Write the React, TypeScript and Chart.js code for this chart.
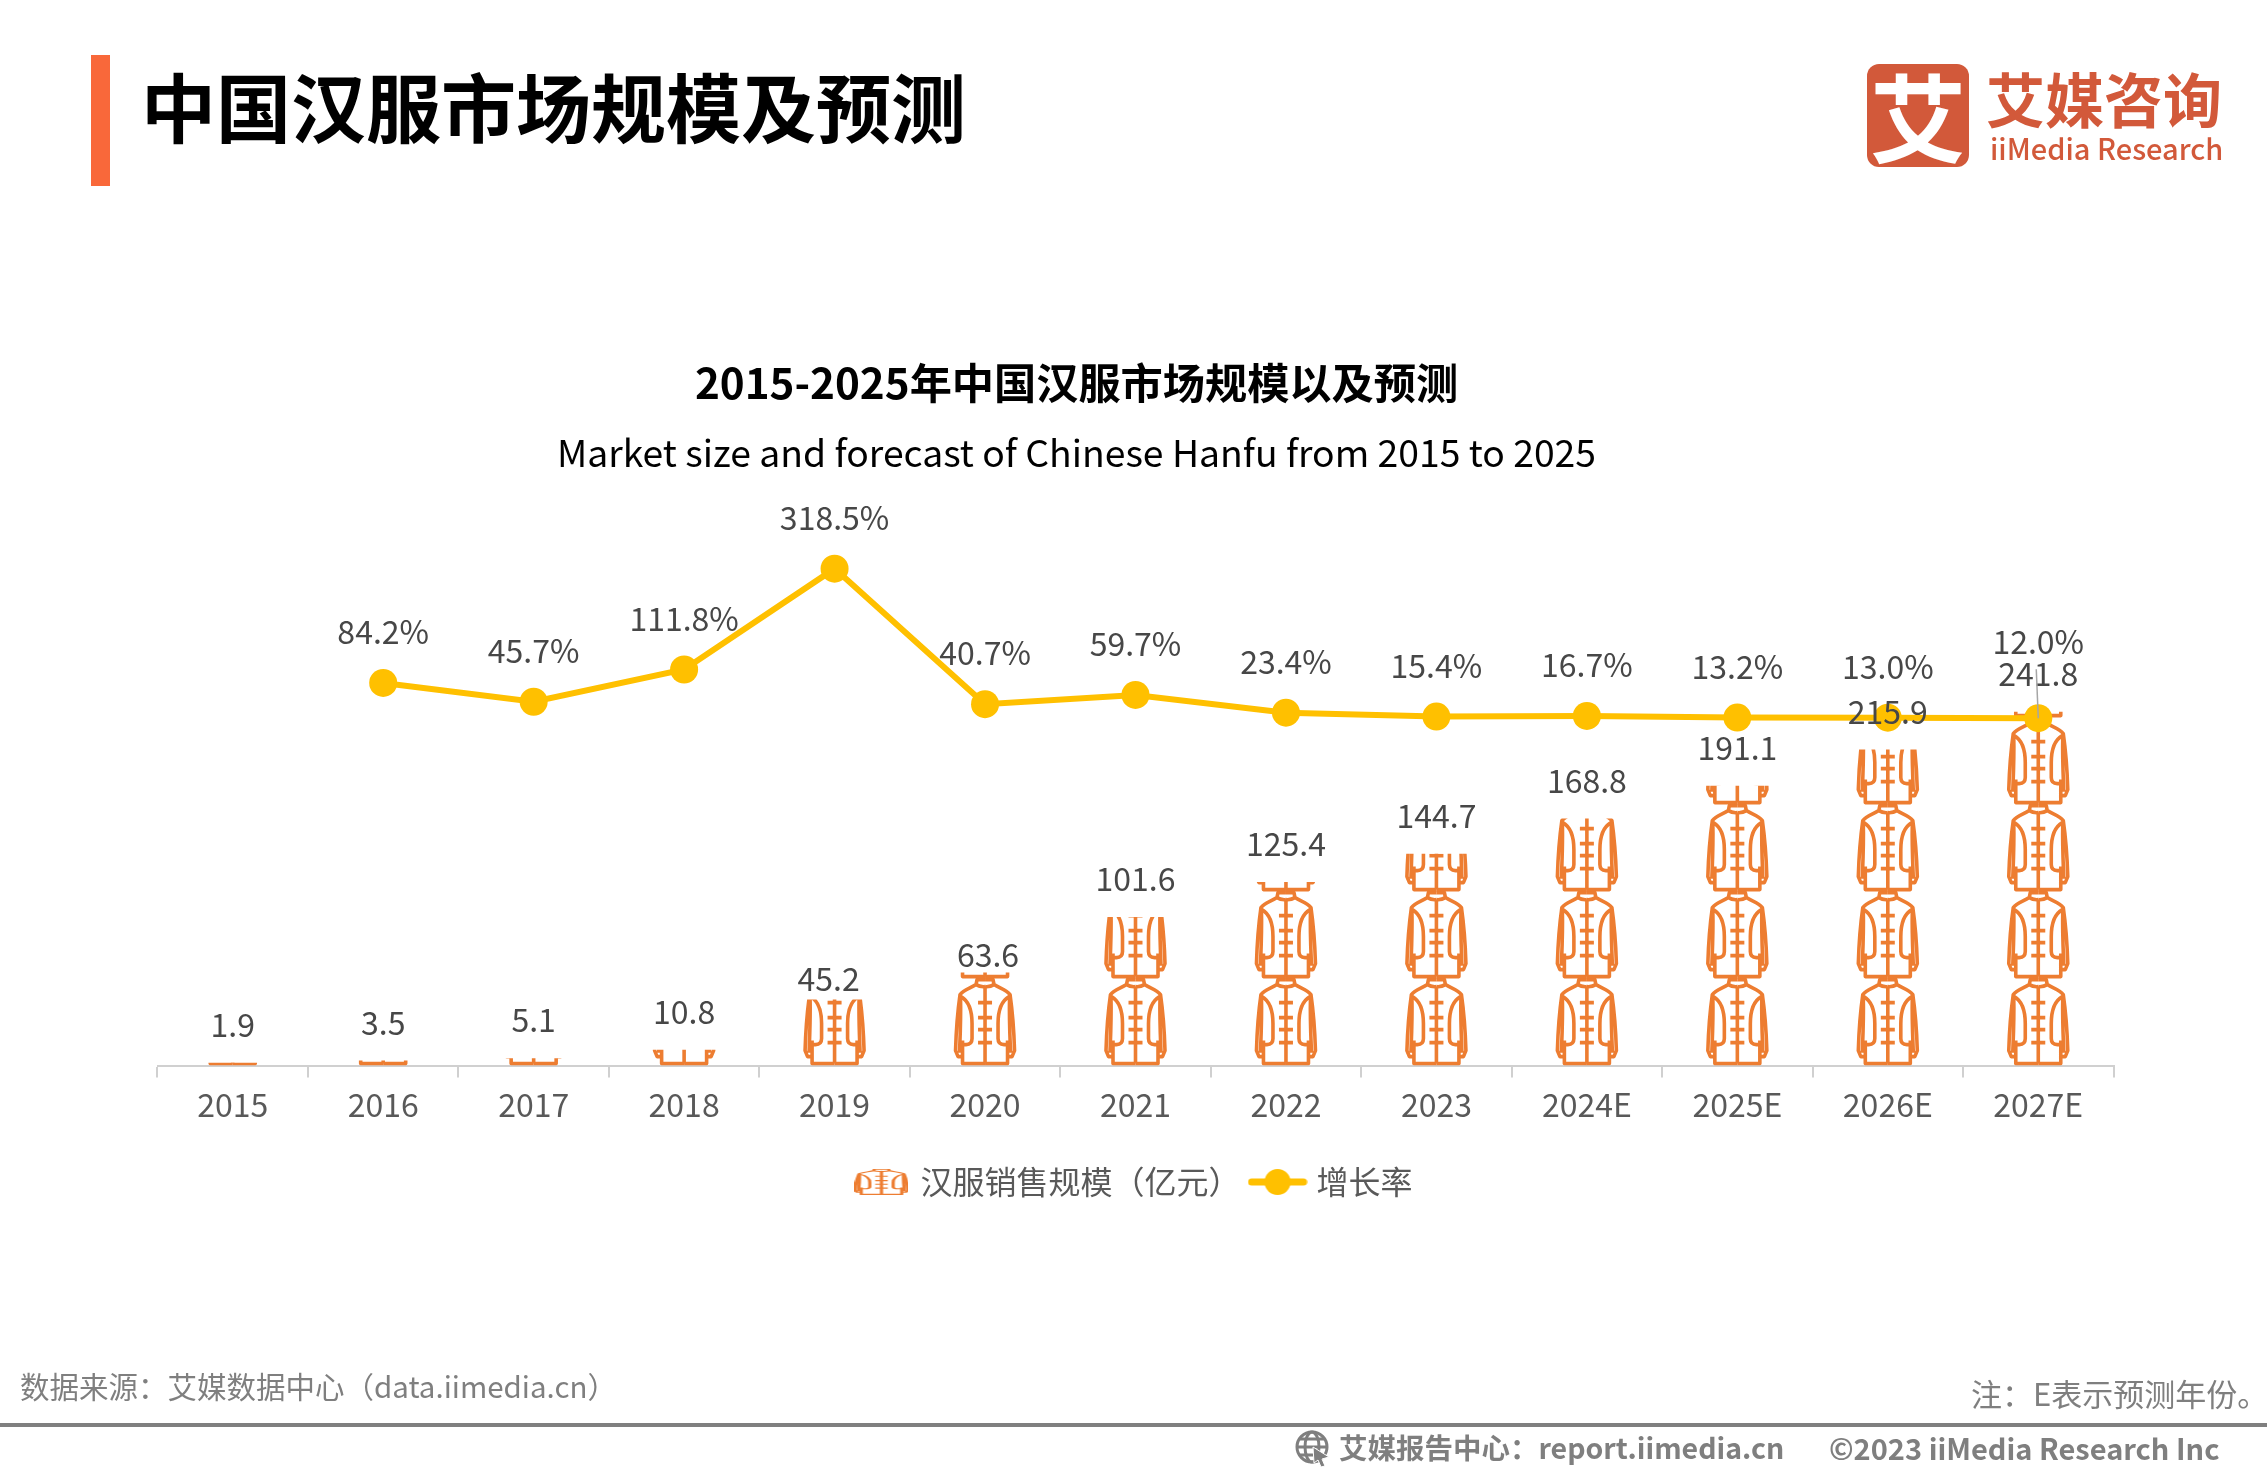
import React, { useEffect, useRef } from "react";
import { Chart, registerables } from "chart.js";

Chart.register(...registerables);

const FONT = '"Noto Sans CJK SC", "Noto Sans", sans-serif';

const years = ["2015", "2016", "2017", "2018", "2019", "2020", "2021", "2022", "2023", "2024E", "2025E", "2026E", "2027E"];
const marketSize = [1.9, 3.5, 5.1, 10.8, 45.2, 63.6, 101.6, 125.4, 144.7, 168.8, 191.1, 215.9, 241.8];
const growthRate = [null, 84.2, 45.7, 111.8, 318.5, 40.7, 59.7, 23.4, 15.4, 16.7, 13.2, 13.0, 12.0];

const ORANGE = "#ED7D31";
const YELLOW = "#FFC000";
const TILE_W = 60;
const TILE_H = 87;

// a couple of labels were dragged by hand in the original: index -> [dx, dy]
const barLabelNudge: Record<number, [number, number]> = { 4: [-6, 17], 5: [3, 20] };

// one jacket in a 60x87 box, the left half is mirrored for the right one
function drawJacket(ctx: CanvasRenderingContext2D) {
  const half = () => {
    ctx.beginPath();
    // collar
    ctx.moveTo(30, 1);
    ctx.lineTo(22, 1);
    ctx.lineTo(21, 6);
    ctx.quadraticCurveTo(25, 8.5, 30, 8);
    // shoulder and outer sleeve
    ctx.moveTo(21, 6);
    ctx.bezierCurveTo(15, 10, 9, 11, 5, 16);
    ctx.bezierCurveTo(3, 30, 1, 55, 0.5, 72);
    ctx.lineTo(3, 78);
    ctx.lineTo(7, 78);
    // inner sleeve
    ctx.moveTo(5.5, 20);
    ctx.bezierCurveTo(6, 40, 5, 60, 4.5, 74);
    // arm hole
    ctx.moveTo(6, 18);
    ctx.bezierCurveTo(13, 22, 17, 32, 17, 45);
    ctx.lineTo(17, 60);
    ctx.quadraticCurveTo(17, 66, 11, 66);
    ctx.lineTo(7.5, 66);
    // body and hem
    ctx.moveTo(7.5, 62);
    ctx.lineTo(7.5, 85);
    ctx.lineTo(30, 85);
    // buttons
    for (const v of [24, 39, 51, 64]) {
      ctx.moveTo(23, v);
      ctx.lineTo(30, v);
    }
    ctx.stroke();
  };
  ctx.strokeStyle = ORANGE;
  ctx.lineWidth = 3.6;
  ctx.lineJoin = "round";
  half();
  ctx.save();
  ctx.translate(60, 0);
  ctx.scale(-1, 1);
  half();
  ctx.restore();
  ctx.beginPath();
  ctx.moveTo(30, 8);
  ctx.lineTo(30, 85);
  ctx.stroke();
}

function jacketLegendIcon() {
  const c = document.createElement("canvas");
  c.width = 54;
  c.height = 26;
  const ctx = c.getContext("2d")!;
  ctx.scale(54 / TILE_W, 26 / TILE_H);
  drawJacket(ctx);
  return c;
}

function lineLegendIcon() {
  const c = document.createElement("canvas");
  c.width = 60;
  c.height = 30;
  const ctx = c.getContext("2d")!;
  ctx.strokeStyle = YELLOW;
  ctx.fillStyle = YELLOW;
  ctx.lineWidth = 7;
  ctx.lineCap = "round";
  ctx.beginPath();
  ctx.moveTo(4, 15);
  ctx.lineTo(56, 15);
  ctx.stroke();
  ctx.beginPath();
  ctx.arc(30, 15, 13, 0, Math.PI * 2);
  ctx.fill();
  return c;
}

// bars are left transparent, the jackets are stacked inside each bar's box
const jacketBars = {
  id: "jacketBars",
  beforeDatasetsDraw(chart: any) {
    const { ctx } = chart;
    chart.getDatasetMeta(0).data.forEach((bar: any) => {
      ctx.save();
      ctx.beginPath();
      ctx.rect(bar.x - TILE_W, bar.y, TILE_W * 2, bar.base - bar.y);
      ctx.clip();
      for (let b = bar.base; b > bar.y; b -= TILE_H) {
        ctx.save();
        ctx.translate(bar.x - TILE_W / 2, b - TILE_H);
        drawJacket(ctx);
        ctx.restore();
      }
      ctx.restore();
    });
  },
};

const valueLabels = {
  id: "valueLabels",
  afterDatasetsDraw(chart: any) {
    const { ctx } = chart;
    const bars = chart.getDatasetMeta(0).data;
    const points = chart.getDatasetMeta(1).data;
    const last = points.length - 1;
    ctx.save();
    ctx.font = `32px ${FONT}`;
    ctx.fillStyle = "#474747";
    ctx.textAlign = "center";
    ctx.textBaseline = "middle";
    marketSize.forEach((v, i) => {
      const [dx, dy] = barLabelNudge[i] ?? [0, 0];
      ctx.fillText(v.toFixed(1), bars[i].x + dx, bars[i].y - 38 + dy);
    });
    growthRate.forEach((v, i) => {
      if (v === null) return;
      const up = i === last ? 76 : 51;
      ctx.fillText(`${v.toFixed(1)}%`, points[i].x, points[i].y - up);
    });
    // leader line of the moved 12.0% label
    ctx.strokeStyle = "#A6A6A6";
    ctx.lineWidth = 1.5;
    ctx.beginPath();
    ctx.moveTo(points[last].x - 2, points[last].y - 49);
    ctx.lineTo(points[last].x, points[last].y);
    ctx.stroke();
    ctx.restore();
  },
};

// the two title lines sit left of the plot's centre in the original
const TITLE_SHIFT = -59;
const shiftTitles = {
  id: "shiftTitles",
  afterLayout(chart: any) {
    chart.boxes
      .filter((b: any) => b.position === "top" && b.options?.text)
      .forEach((b: any) => {
        b.left += TITLE_SHIFT;
        b.right += TITLE_SHIFT;
      });
  },
};

const abs = (left: number, top: number, extra: React.CSSProperties = {}): React.CSSProperties => ({
  position: "absolute",
  left,
  top,
  fontFamily: FONT,
  whiteSpace: "nowrap",
  ...extra,
});

const App: React.FC = () => {
  const chartRef = useRef<HTMLCanvasElement | null>(null);

  useEffect(() => {
    const canvas = chartRef.current;
    if (!canvas) return;
    const icons = [jacketLegendIcon(), lineLegendIcon()];

    const chart = new Chart(canvas, {
      type: "bar",
      data: {
        labels: years,
        datasets: [
          {
            type: "bar",
            label: "汉服销售规模（亿元）",
            data: marketSize,
            yAxisID: "y",
            backgroundColor: "rgba(0,0,0,0)",
            order: 2,
          },
          {
            type: "line",
            label: "增长率",
            data: growthRate,
            yAxisID: "y2",
            borderColor: YELLOW,
            backgroundColor: YELLOW,
            borderWidth: 6,
            pointRadius: 14,
            pointBackgroundColor: YELLOW,
            pointBorderWidth: 0,
            tension: 0,
            order: 1,
          },
        ],
      } as any,
      options: {
        responsive: false,
        animation: false,
        devicePixelRatio: 1,
        layout: { padding: { top: 356, left: 157.5, right: 153.5, bottom: 266 } },
        scales: {
          x: {
            offset: true,
            grid: { drawOnChartArea: false, drawTicks: true, tickLength: 12, color: "#D0D0D0", lineWidth: 2 },
            border: { color: "#D0D0D0", width: 2 },
            ticks: { color: "#595959", font: { family: FONT, size: 32 }, padding: 8, maxRotation: 0, autoSkip: false },
            afterFit: (axis: any) => {
              axis.height += 20;
            },
          },
          y: { display: false, min: 0, max: 395 },
          y2: { display: false, min: -700, max: 485 },
        },
        plugins: {
          title: {
            display: true,
            text: "2015-2025年中国汉服市场规模以及预测",
            color: "#000000",
            font: { family: FONT, size: 42.2, weight: "bold" },
            padding: { top: 2, bottom: 22 },
          },
          subtitle: {
            display: true,
            text: "Market size and forecast of Chinese Hanfu from 2015 to 2025",
            color: "#000000",
            font: { family: FONT, size: 37.3 },
            padding: { top: 0, bottom: 12 },
          },
          legend: {
            position: "bottom",
            labels: {
              usePointStyle: true,
              pointStyleWidth: 46,
              padding: 14,
              color: "#595959",
              font: { family: FONT, size: 32 },
              sort: (a: any, b: any) => a.datasetIndex - b.datasetIndex,
              generateLabels: (c: any) =>
                Chart.defaults.plugins.legend.labels
                  .generateLabels(c)
                  .map((item: any) => ({ ...item, pointStyle: icons[item.datasetIndex] })),
            },
          },
          tooltip: { enabled: false },
        },
      },
      plugins: [jacketBars, valueLabels, shiftTitles],
    } as any);

    return () => chart.destroy();
  }, []);

  const grey = "#7F7F7F";
  const logo = "#D2593A";

  return (
    <div style={{ position: "absolute", left: 0, top: 0, width: 2267, height: 1474, background: "#fff", overflow: "hidden" }}>
      <canvas ref={chartRef} width={2267} height={1474} style={{ position: "absolute", left: 0, top: 0, display: "block" }} />

      <div style={abs(91, 55, { width: 19, height: 131, background: "#F9683A" })} />
      <div style={abs(141, 50, { fontSize: 75, lineHeight: "110px", fontWeight: 700, color: "#000" })}>中国汉服市场规模及预测</div>

      <div style={abs(1867, 64, { width: 102, height: 103, borderRadius: 12, background: logo, color: "#fff", fontSize: 96, lineHeight: "100px", fontWeight: 700, textAlign: "center" })}>艾</div>
      <div style={abs(1986, 58, { fontSize: 59, lineHeight: "80px", fontWeight: 700, color: logo })}>艾媒咨询</div>
      <div style={abs(1990, 125, { fontSize: 29, lineHeight: "44px", fontWeight: 500, color: logo })}>iiMedia Research</div>

      <div style={abs(20, 1363, { fontSize: 29.5, lineHeight: "44px", color: grey })}>数据来源：艾媒数据中心（data.iimedia.cn）</div>
      <div style={abs(1971, 1371, { fontSize: 31, lineHeight: "44px", color: grey })}>注：E表示预测年份。</div>
      <div style={abs(0, 1423, { width: 2267, height: 4, background: grey })} />

      <svg style={{ position: "absolute", left: 1294, top: 1429 }} width="38" height="38" viewBox="0 0 38 38">
        <g fill="none" stroke={grey} strokeWidth="3">
          <circle cx="18" cy="18" r="15" />
          <ellipse cx="18" cy="18" rx="7" ry="15" />
          <path d="M3 18H33M6 10H30M6 26H22" />
        </g>
        <path d="M19 18L35 28L28 30L31 37L27 38L24 31L20 34Z" fill={grey} stroke="#fff" strokeWidth="1" />
      </svg>
      <div style={abs(1339, 1425, { fontSize: 28.5, lineHeight: "44px", fontWeight: 700, color: grey })}>艾媒报告中心：report.iimedia.cn</div>
      <div style={abs(1829, 1425, { fontSize: 29, lineHeight: "44px", fontWeight: 700, color: grey })}>©2023 iiMedia Research Inc</div>
    </div>
  );
};

export default App;
